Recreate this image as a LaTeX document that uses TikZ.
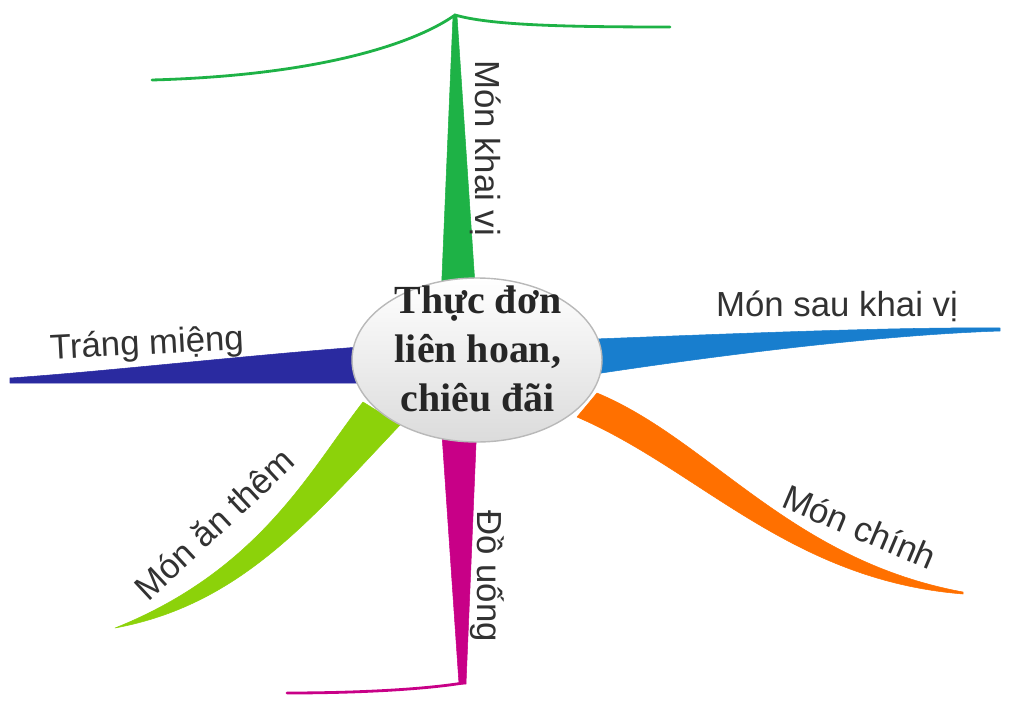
\documentclass[tikz,border=0pt]{standalone}
\usepackage{fontspec}
\setmainfont{Liberation Serif}
\setsansfont{Liberation Sans}
\usetikzlibrary{shapes.geometric}
\definecolor{khaivi}{RGB}{30,178,70}
\definecolor{saukhaivi}{RGB}{24,126,206}
\definecolor{trangmieng}{RGB}{42,42,160}
\definecolor{anthem}{RGB}{140,210,10}
\definecolor{monchinh}{RGB}{255,112,0}
\definecolor{douong}{RGB}{200,0,135}
\definecolor{chu}{RGB}{50,50,50}
\tikzset{
  limb/.style={fill=#1,draw=#1,line width=0.3pt,line join=round},
  twig/.style={draw=#1,line width=1.6pt,line cap=round},
  tag/.style={text=chu,font=\sffamily\fontsize{19.8}{24}\selectfont,inner sep=0pt},
  hub/.style={ellipse,draw=gray!55,line width=0.8pt,top color=white,bottom color=gray!28,
    minimum width=5cm,minimum height=3.28cm,inner sep=0pt}
}
\begin{document}
\begin{tikzpicture}[x=0.02cm,y=-0.02cm]
                      \useasboundingbox (0,0) rectangle (1024,703);
                      \coordinate (kv) at (455,15);
                      \coordinate (du) at (463,683);
                      \draw[twig=khaivi] (152,80) .. controls (330,75) and (420,40) .. (kv) .. controls (490,25) and (560,27) .. (670,27);
                      \fill[limb=khaivi] (441,300) -- (453,16) -- (457,16) -- (476,300) -- cycle;
                      \fill[limb=saukhaivi] (595,339) .. controls (750,333) and (900,327) .. (1000,328) -- (1000,331) .. controls (880,335) and (720,355) .. (595,374) -- cycle;
                      \fill[limb=trangmieng] (360,347) .. controls (250,355) and (100,372) .. (10,378) -- (10,383) -- (360,383) -- cycle;
                      \fill[limb=anthem] (363,402) .. controls (310,470) and (260,570) .. (115,628) .. controls (240,605) and (310,520) .. (400,425) -- cycle;
                      \fill[limb=monchinh] (597,393) .. controls (710,440) and (790,560) .. (963,592) -- (963,594) .. controls (790,580) and (700,470) .. (577,417) -- cycle;
                      \fill[limb=douong] (441,420) -- (459,684) -- (466,684) -- (477,420) -- cycle;
                      \draw[twig=douong] (du) .. controls (420,690) and (350,693) .. (287,693);
                      \node[hub] (menu) at (477,360) {};
                      \node[align=center,font=\bfseries\fontsize{22.7}{28}\selectfont,text=black!85] (title) at (478,349) {Thực đơn\\liên hoan,\\chiêu đãi};
                      \node[tag,rotate=-90] (kvtag) at (486,148) {Món khai vị};
                      \node[tag] (skvtag) at (837,306) {Món sau khai vị};
                      \node[tag,rotate=3] (tmtag) at (147,345) {Tráng miệng};
                      \node[tag,rotate=43] (attag) at (214,524) {Món ăn thêm};
                      \node[tag,rotate=-23] (mctag) at (860,527) {Món chính};
                      \node[tag,rotate=-90] (dutag) at (487,576) {Đồ uống};
                  \end{tikzpicture}
\end{document}
